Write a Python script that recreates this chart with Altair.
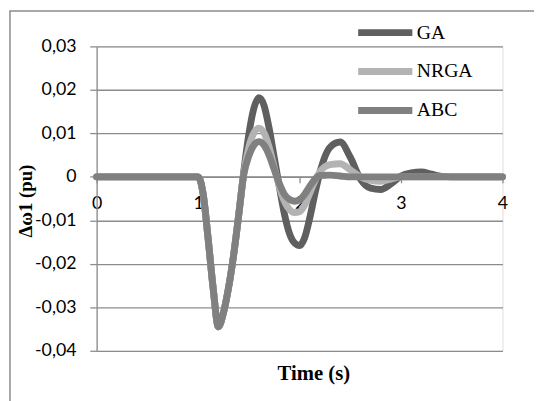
import altair as alt
import pandas as pd

# time axis (s)
times = [0.0, 0.5, 0.9, 1.0,
         1.05, 1.1, 1.15, 1.2, 1.25, 1.3, 1.35, 1.4, 1.45, 1.5, 1.55, 1.6,
         1.65, 1.7, 1.75, 1.8, 1.85, 1.9, 1.95, 2.0, 2.05, 2.1, 2.15, 2.2,
         2.3, 2.4, 2.5, 2.6, 2.7, 2.8, 2.9, 3.0, 3.1, 3.2, 3.3, 3.4, 3.5, 3.7, 4.0]

ga = [0, 0, 0, 0,
      -0.004, -0.0145, -0.026, -0.0345, -0.0312, -0.0255, -0.018, -0.0088, 0.0012, 0.0098, 0.0158, 0.0182,
      0.0164, 0.0112, 0.0045, -0.0022, -0.0085, -0.0130, -0.0152, -0.0158, -0.0140, -0.0095, -0.0040, 0.0010,
      0.0068, 0.0080, 0.0045, -0.0005, -0.0026, -0.0029, -0.0016, 0.0002, 0.0009, 0.0011, 0.0006, 0.0001, 0, 0, 0]

nrga = [0, 0, 0, 0,
        -0.004, -0.0145, -0.026, -0.0345, -0.0312, -0.0255, -0.018, -0.0088, 0.0008, 0.0068, 0.0101, 0.0112,
        0.0101, 0.0068, 0.0022, -0.0022, -0.0056, -0.0075, -0.0082, -0.0080, -0.0065, -0.0038, -0.0010, 0.0011,
        0.0028, 0.0030, 0.0016, 0.0000, -0.0008, -0.0010, -0.0005, 0, 0, 0, 0, 0, 0, 0, 0]

abc = [0, 0, 0, 0,
       -0.004, -0.0145, -0.026, -0.0345, -0.0312, -0.0255, -0.018, -0.0088, 0.0005, 0.0048, 0.0073, 0.0081,
       0.0073, 0.0050, 0.0017, -0.0015, -0.0040, -0.0052, -0.0056, -0.0053, -0.0040, -0.0022, -0.0006, 0.0003,
       0.0004, 0.0002, 0, 0, 0, 0, 0, 0, 0, 0, 0, 0, 0, 0, 0]

series_names = ["GA", "NRGA", "ABC"]
series_colors = ["#5f5f5f", "#b3b3b3", "#808080"]
y_ticks = [-0.04, -0.03, -0.02, -0.01, 0, 0.01, 0.02, 0.03]
x_ticks = [0, 1, 2, 3, 4]

rows = []
for name, vals in zip(series_names, [ga, nrga, abc]):
    for t, v in zip(times, vals):
        rows.append({"t": t, "v": v, "s": name})
df = pd.DataFrame(rows)

W, H = 412, 309
zero_offset = -H * 0.04 / 0.07
grid_col = "#8c8c8c"

lines = alt.Chart(df).mark_line(
    strokeWidth=7, interpolate="monotone", strokeCap="round", strokeJoin="round"
).encode(
    x=alt.X("t:Q", scale=alt.Scale(domain=[0, 4], nice=False),
            axis=alt.Axis(values=x_ticks, offset=zero_offset, grid=False,
                          domainColor=grid_col, domainWidth=1.3, tickColor=grid_col, tickWidth=1.3,
                          tickSize=6, labelPadding=12, labelFont="Lato", labelFontSize=18,
                          labelColor="black", labelFlush=False, format="d",
                          title="Time (s)", titleFont="Liberation Serif", titleFontWeight="bold",
                          titleFontSize=21, titleColor="black", titleX=220, titleY=206,
                          titleBaseline="alphabetic", titleAlign="center")),
    y=alt.Y("v:Q", scale=alt.Scale(domain=[-0.04, 0.03], nice=False, zero=False),
            axis=alt.Axis(values=y_ticks, grid=True, gridColor=grid_col, gridWidth=1.3,
                          domainColor=grid_col, domainWidth=1.3, tickColor=grid_col, tickWidth=1.3,
                          tickSize=7, labelPadding=14, labelFont="Lato", labelFontSize=18,
                          labelColor="black",
                          labelExpr="datum.value == 0 ? '0' : (datum.value < 0 ? '-' : '') + replace(format(abs(datum.value), '.2f'), '.', ',')",
                          title="Δω1 (pu)", titleFont="Liberation Serif", titleFontWeight="bold",
                          titleFontSize=19, titleColor="black", titleX=-66, titleY=H / 2 + 2,
                          titleBaseline="alphabetic", titleAlign="center", titleAngle=270)),
    color=alt.Color("s:N", sort=series_names,
                    scale=alt.Scale(domain=series_names, range=series_colors),
                    legend=alt.Legend(orient="none", legendX=283, legendY=-24, title=None,
                                      symbolType="M-5,0H5", symbolSize=121, symbolStrokeWidth=7,
                                      labelFont="Liberation Serif", labelFontSize=20,
                                      labelColor="black", rowPadding=11.5, labelOffset=22)),
    order=alt.value(0),
)

frame = alt.Chart(pd.DataFrame({"a": [0]})).mark_rect(
    fillOpacity=0, stroke=grid_col, strokeWidth=1.5, clip=False
).encode(x=alt.value(-88), x2=alt.value(470), y=alt.value(-36), y2=alt.value(390))

chart = alt.layer(frame, lines).properties(
    width=W, height=H,
    autosize=alt.AutoSizeParams(type="none"),
    padding={"left": 90, "top": 36, "right": 32, "bottom": 48},
).configure_view(stroke=None).configure(background="white")

chart.save("out.html", embed_options={"renderer": "svg", "actions": False})
